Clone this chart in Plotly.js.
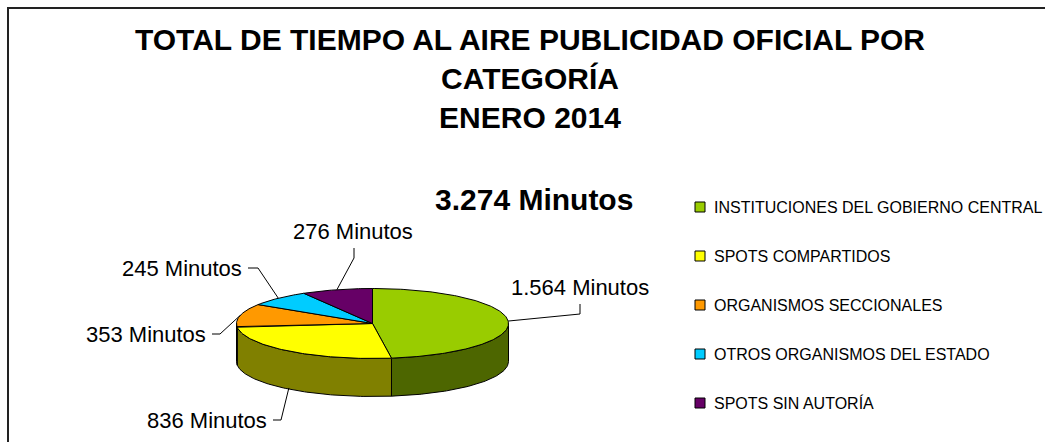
<!DOCTYPE html>
<html>
<head>
<meta charset="utf-8">
<script src="https://cdn.plot.ly/plotly-3.0.1.min.js"></script>
<style>html,body{margin:0;padding:0;background:#fff;}#chart{width:1045px;height:442px;}</style>
</head>
<body>
<div id="chart"></div>
<script>
// ---- data ----
const categories = ['INSTITUCIONES DEL GOBIERNO CENTRAL', 'SPOTS COMPARTIDOS', 'ORGANISMOS SECCIONALES', 'OTROS ORGANISMOS DEL ESTADO', 'SPOTS SIN AUTORÍA'];
const minutes = [1564, 836, 353, 245, 276];
const unitLabel = 'Minutos';
const titleLines = ['TOTAL DE TIEMPO AL AIRE PUBLICIDAD OFICIAL POR', 'CATEGORÍA', 'ENERO 2014'];

// ---- styles / layout ----
const topColors = ['#99CC00', '#FFFF00', '#FF9900', '#00CCFF', '#660066'];
const sideColors = ['#4D6600', '#808000', '#804D00', '#006680', '#330033'];
const FONT = 'Liberation Sans, Arial, Helvetica, sans-serif';
const W = 1045, H = 442;
const CX = 372.5, CY = 323.5, RX = 136, RY = 35, DEPTH = 38;
// label placement: text position, anchor, and two leader points (start, elbow)
const labelPlace = [
  {tx: 580, ty: 287, xa: 'center', p0: [580, 304], p1: [580, 314], onSide: false},
  {tx: 269, ty: 420, xa: 'right', p0: [273, 420], p1: [281, 420], onSide: true},
  {tx: 208, ty: 334, xa: 'right', p0: [212, 334], p1: [220, 334], onSide: false},
  {tx: 244, ty: 268, xa: 'right', p0: [248, 268], p1: [258, 268], onSide: false},
  {tx: 353, ty: 231, xa: 'center', p0: [354, 248], p1: [354, 258], onSide: false}
];
const legendX = 700, legendY0 = 207, legendStep = 49, legendTextX = 712;

function fmt(n) { return String(n).replace(/\B(?=(\d{3})+(?!\d))/g, '.'); }
function pt(deg, dy) {
  const r = deg * Math.PI / 180;
  return [CX + RX * Math.sin(r), CY - RY * Math.cos(r) + (dy || 0)];
}
function arc(a, b, dy) {
  const out = [];
  const n = Math.max(2, Math.ceil(Math.abs(b - a)));
  for (let k = 0; k <= n; k++) out.push(pt(a + (b - a) * k / n, dy));
  return out;
}

const total = minutes.reduce((s, v) => s + v, 0);
const traces = [];
const topTraces = [];
const anns = [];
let cum = 0;
minutes.forEach((v, i) => {
  const a = cum / total * 360;
  const b = (cum + v) / total * 360;
  cum += v;
  // side wall (front half only: 90..270)
  const lo = Math.max(a, 90), hi = Math.min(b, 270);
  if (hi > lo) {
    const pts = arc(lo, hi, 0).concat(arc(hi, lo, DEPTH));
    pts.push(pts[0]);
    traces.push({type: 'scatter', mode: 'lines', x: pts.map(p => p[0]), y: pts.map(p => p[1]),
      fill: 'toself', fillcolor: sideColors[i], line: {color: '#000', width: 1},
      hoverinfo: 'skip', showlegend: false});
  }
  // top face
  const tp = [[CX, CY]].concat(arc(a, b, 0));
  tp.push([CX, CY]);
  topTraces.push({type: 'scatter', mode: 'lines', x: tp.map(p => p[0]), y: tp.map(p => p[1]),
    fill: 'toself', fillcolor: topColors[i], line: {color: '#000', width: 1},
    hoverinfo: 'skip', showlegend: false});
  // leader line + label
  const L = labelPlace[i];
  const mid = (a + b) / 2;
  const anc = pt(mid, L.onSide ? DEPTH * 0.97 : 0);
  traces.push({type: 'scatter', mode: 'lines', x: [L.p0[0], L.p1[0], anc[0]], y: [L.p0[1], L.p1[1], anc[1]],
    line: {color: '#000', width: 1}, hoverinfo: 'skip', showlegend: false});
  anns.push({x: L.tx, y: L.ty, xref: 'x', yref: 'y', text: fmt(v) + ' ' + unitLabel, showarrow: false,
    xanchor: L.xa, yanchor: 'middle', font: {family: FONT, size: 22, color: '#000'}});
});

// legend (manual)
traces.push(...topTraces);
traces.push({type: 'scatter', mode: 'markers', x: categories.map(() => legendX),
  y: categories.map((_, i) => legendY0 + legendStep * i),
  marker: {symbol: 'square', size: 10, color: topColors, line: {color: '#000', width: 1}},
  hoverinfo: 'skip', showlegend: false});
categories.forEach((c, i) => {
  anns.push({x: legendTextX, y: legendY0 + legendStep * i, xref: 'x', yref: 'y', text: c, showarrow: false,
    xanchor: 'left', yanchor: 'middle', font: {family: FONT, size: 16, color: '#000'}});
});
// total
anns.push({x: 534, y: 199, xref: 'x', yref: 'y', text: '<b>' + fmt(total) + ' ' + unitLabel + '</b>', showarrow: false,
  xanchor: 'center', yanchor: 'middle', font: {family: FONT, size: 30, color: '#000'}});

const layout = {
  width: W, height: H,
  margin: {l: 0, r: 0, t: 0, b: 0, pad: 0},
  paper_bgcolor: '#fff', plot_bgcolor: '#fff',
  showlegend: false,
  title: {text: titleLines.join('<br>'), x: 530 / W, xanchor: 'center', xref: 'paper',
    y: 1 - 50 / H, yref: 'container', yanchor: 'top',
    font: {family: FONT, size: 30, color: '#000', weight: 'bold'}},
  xaxis: {range: [0, W], visible: false, fixedrange: true},
  yaxis: {range: [H, 0], visible: false, fixedrange: true},
  annotations: anns,
  shapes: [{type: 'rect', xref: 'x', yref: 'y', x0: 8, y0: 8, x1: W + 20, y1: H + 20,
    line: {color: '#222', width: 2}, fillcolor: 'rgba(0,0,0,0)', layer: 'below'}]
};

Plotly.newPlot('chart', traces, layout, {displayModeBar: false, staticPlot: true});
</script>
</body>
</html>
